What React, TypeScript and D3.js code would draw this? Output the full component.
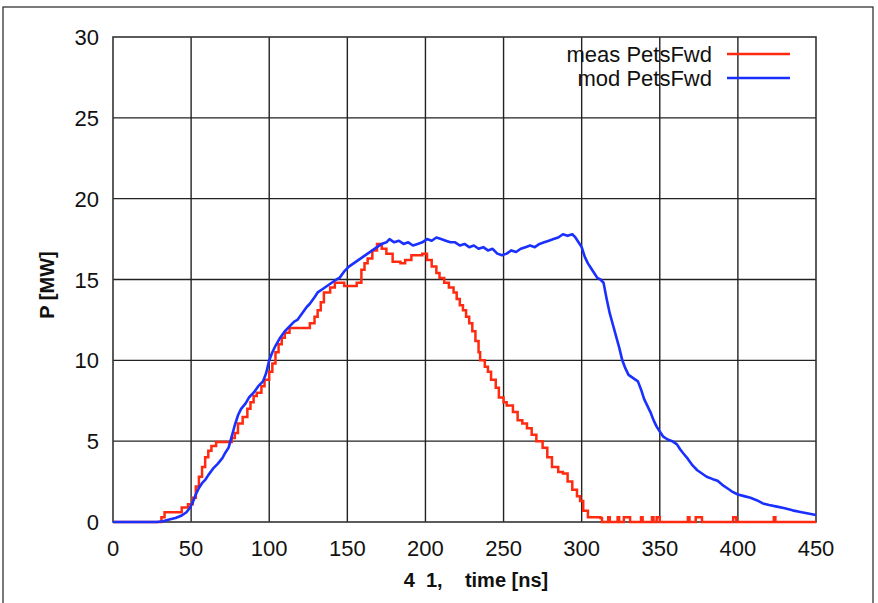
import React from "react";
import * as d3 from "d3";

const xTicks = [0, 50, 100, 150, 200, 250, 300, 350, 400, 450];
const yTicks = [0, 5, 10, 15, 20, 25, 30];

const measT = [0, 30, 31, 33, 44, 48, 51, 53, 55, 57, 59, 61, 63, 66, 74, 76, 78, 80, 83, 86, 88, 90, 92, 95, 97, 100, 102, 104, 106, 108, 110, 113, 124, 126, 129, 131, 133, 135, 139, 142, 148, 156, 159, 161, 163, 166, 169, 172, 175, 179, 184, 187, 191, 198, 201, 204, 207, 209, 212, 215, 218, 220, 222, 224, 226, 228, 230, 232, 234, 235, 238, 240, 242, 245, 247, 250, 252, 256, 259, 262, 265, 268, 271, 275, 278, 281, 285, 288, 291, 294, 297, 299, 301, 304, 312, 313, 317, 318, 323, 324, 327, 331, 338, 339, 345, 346, 348, 350, 368, 369, 373, 377, 397, 399, 423, 424, 450];
const measP = [0, 0, 0.3, 0.6, 0.9, 1.1, 1.5, 2.2, 2.8, 3.4, 4.0, 4.4, 4.7, 4.95, 4.95, 5.2, 5.5, 6.1, 6.5, 7.0, 7.4, 7.8, 8.0, 8.4, 8.8, 9.3, 9.8, 10.5, 11.0, 11.4, 11.7, 12.0, 12.0, 12.3, 12.7, 13.1, 13.6, 14.2, 14.5, 14.8, 14.6, 14.8, 15.6, 16.0, 16.3, 16.8, 17.2, 16.9, 16.6, 16.1, 16.0, 16.2, 16.5, 16.6, 16.2, 15.8, 15.4, 15.1, 14.8, 14.5, 14.2, 13.8, 13.4, 13.1, 12.7, 12.3, 11.8, 11.2, 10.5, 10.0, 9.6, 9.3, 8.8, 8.3, 7.7, 7.4, 7.2, 6.8, 6.3, 6.1, 5.8, 5.4, 5.0, 4.6, 4.0, 3.4, 3.1, 3.0, 2.5, 2.0, 1.6, 1.3, 0.7, 0.3, 0.25, 0, 0.3, 0, 0.3, 0, 0.3, 0, 0.3, 0, 0.3, 0, 0.3, 0, 0.3, 0, 0.3, 0, 0.3, 0, 0.3, 0, 0];

const modT = [0, 28, 32, 36, 40, 44, 47, 49, 51, 53, 55, 57, 59, 61, 64, 67, 70, 72, 74, 76, 78, 80, 82, 85, 87, 90, 93, 96, 98, 100, 102, 104, 107, 110, 113, 116, 118, 121, 124, 126, 129, 131, 134, 137, 140, 143, 145, 148, 151, 154, 157, 160, 163, 166, 169, 172, 175, 177, 180, 183, 186, 189, 192, 195, 198, 201, 204, 207, 210, 213, 216, 219, 222, 225, 228, 231, 234, 237, 240, 243, 246, 249, 252, 255, 258, 261, 264, 267, 270, 273, 276, 279, 282, 285, 288, 291, 294, 296, 298, 300, 302, 304, 306, 308, 310, 312, 314, 316, 318, 320, 322, 324, 326, 328, 330, 333, 336, 338, 340, 342, 344, 346, 348, 350, 352, 355, 358, 361, 363, 365, 368, 371, 374, 377, 380, 384, 387, 390, 393, 396, 400, 404, 408, 412, 416, 420, 425, 430, 435, 440, 445, 450];
const modP = [0, 0, 0.05, 0.15, 0.25, 0.4, 0.6, 0.85, 1.2, 1.7, 2.1, 2.4, 2.6, 2.9, 3.3, 3.6, 3.95, 4.3, 4.6, 5.3, 6.0, 6.6, 7.0, 7.35, 7.7, 8.0, 8.4, 8.7, 9.2, 10.0, 10.5, 10.9, 11.4, 11.8, 12.1, 12.4, 12.5, 12.9, 13.3, 13.5, 13.9, 14.2, 14.4, 14.6, 14.8, 15.0, 15.1, 15.5, 15.8, 16.0, 16.2, 16.4, 16.6, 16.8, 17.0, 17.2, 17.3, 17.5, 17.3, 17.4, 17.2, 17.3, 17.1, 17.2, 17.3, 17.5, 17.4, 17.6, 17.5, 17.4, 17.3, 17.3, 17.1, 17.2, 17.0, 17.1, 16.9, 17.0, 16.8, 16.9, 16.6, 16.5, 16.6, 16.8, 16.7, 16.9, 17.0, 17.1, 17.0, 17.2, 17.3, 17.4, 17.5, 17.6, 17.8, 17.7, 17.8, 17.6, 17.3, 17.0, 16.4, 16.0, 15.7, 15.4, 15.1, 15.0, 14.8, 13.8, 12.9, 12.2, 11.5, 10.8, 10.0, 9.5, 9.1, 8.9, 8.7, 8.2, 7.6, 7.2, 6.8, 6.3, 5.9, 5.6, 5.3, 5.1, 5.0, 4.8, 4.5, 4.25, 3.9, 3.5, 3.2, 3.0, 2.8, 2.65, 2.55, 2.3, 2.1, 1.9, 1.7, 1.6, 1.5, 1.35, 1.15, 1.05, 0.95, 0.85, 0.72, 0.62, 0.52, 0.43];

const seriesNames = ["meas PetsFwd", "mod PetsFwd"];
const seriesColors = ["#ff2a10", "#1a30ff"];

export default function App() {
  const W = 878;
  const H = 603;
  const x = d3.scaleLinear().domain([0, 450]).range([113, 816]);
  const y = d3.scaleLinear().domain([0, 30]).range([522, 37]);
  const font = "'Liberation Sans', Arial, Helvetica, sans-serif";

  const measData: [number, number][] = measT.map((t, i) => [t, measP[i]]);
  const modData: [number, number][] = modT.map((t, i) => [t, modP[i]]);
  const stepGen = d3
    .line<[number, number]>()
    .x((d) => x(d[0]))
    .y((d) => y(d[1]))
    .curve(d3.curveStepAfter);
  const lineGen = d3
    .line<[number, number]>()
    .x((d) => x(d[0]))
    .y((d) => y(d[1]));

  const [x0, x1] = x.range();
  const [y0, y1] = y.range();

  return (
    <svg
      width={W}
      height={H}
      style={{ position: "absolute", left: 0, top: 0, background: "#fff" }}
      fontFamily={font}
    >
      <rect x={0} y={0} width={W} height={H} fill="#fff" />
      <rect x={3} y={7} width={870} height={610} fill="none" stroke="#333" strokeWidth={1.3} />
      {xTicks.slice(1, -1).map((t) => (
        <line key={"gx" + t} x1={x(t)} x2={x(t)} y1={y1} y2={y0} stroke="#222" strokeWidth={1.4} />
      ))}
      {yTicks.slice(1, -1).map((t) => (
        <line key={"gy" + t} x1={x0} x2={x1} y1={y(t)} y2={y(t)} stroke="#222" strokeWidth={1.4} />
      ))}
      <rect x={x0} y={y1} width={x1 - x0} height={y0 - y1} fill="none" stroke="#333" strokeWidth={1.6} />
      {xTicks.map((t) => (
        <text key={"tx" + t} x={x(t)} y={556} textAnchor="middle" fontSize={22} fill="#111">
          {t}
        </text>
      ))}
      {yTicks.map((t) => (
        <text key={"ty" + t} x={99} y={y(t) + 8} textAnchor="end" fontSize={22} fill="#111">
          {t}
        </text>
      ))}
      <text x={476} y={587} textAnchor="middle" fontSize={20} fontWeight="bold" fill="#111" style={{ whiteSpace: "pre" }}>
        {"4  1,    time [ns]"}
      </text>
      <text
        transform="translate(54,285) rotate(-90)"
        textAnchor="middle"
        fontSize={20}
        fontWeight="bold"
        fill="#111"
      >
        P [MW]
      </text>
      <path d={stepGen(measData) || ""} fill="none" stroke={seriesColors[0]} strokeWidth={2.5} />
      <path d={lineGen(modData) || ""} fill="none" stroke={seriesColors[1]} strokeWidth={2.6} strokeLinejoin="round" />
      {seriesNames.map((n, i) => (
        <g key={n}>
          <text x={712} y={62 + i * 24} textAnchor="end" fontSize={22} fill="#111">
            {n}
          </text>
          <line x1={727} x2={790} y1={54 + i * 24} y2={54 + i * 24} stroke={seriesColors[i]} strokeWidth={2.5} />
        </g>
      ))}
    </svg>
  );
}
